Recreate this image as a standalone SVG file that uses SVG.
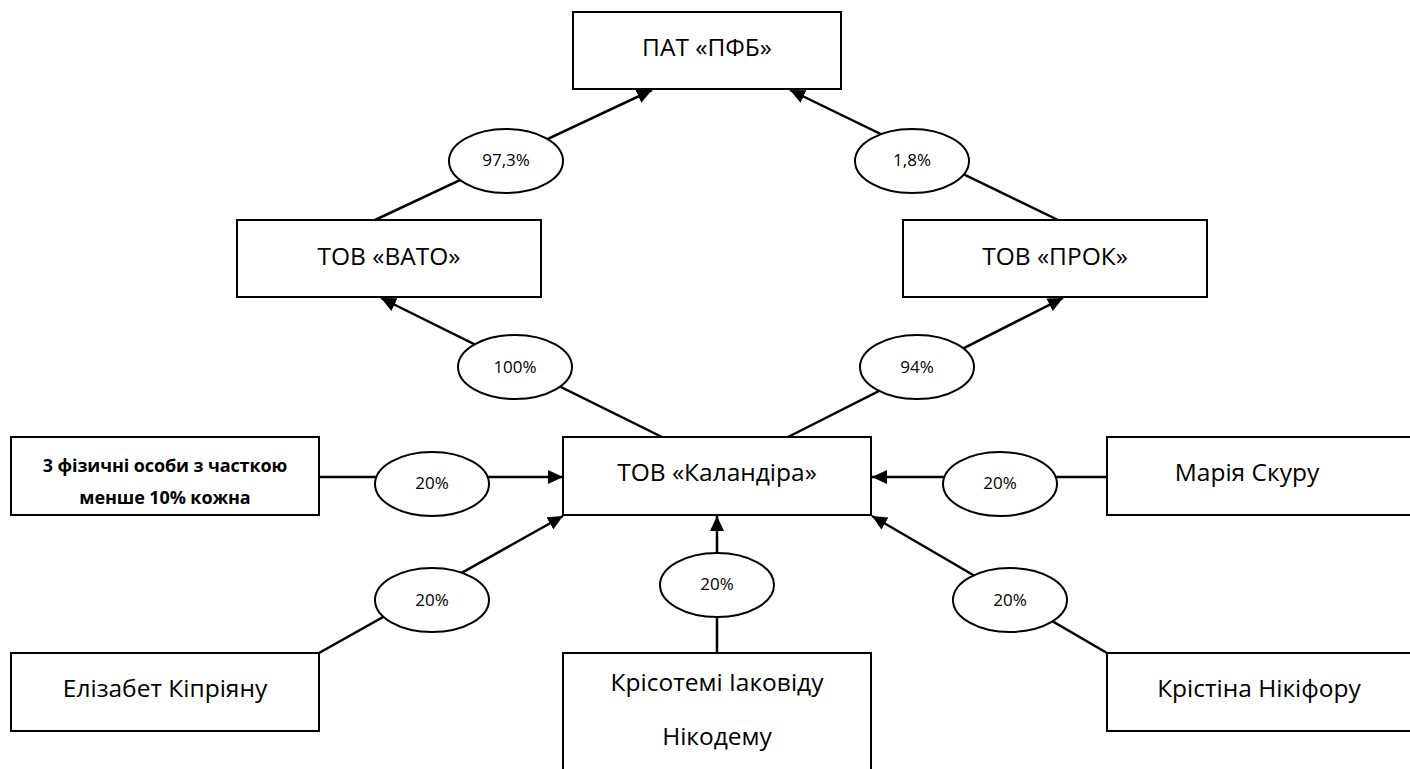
<svg xmlns="http://www.w3.org/2000/svg" width="1410" height="769" viewBox="0 0 1410 769">
<style>
.box{fill:#fff;stroke:#000;stroke-width:2}
.lbl{font-family:"Open Sans","Noto Sans","DejaVu Sans",sans-serif;font-size:24.5px;fill:#000;text-anchor:middle}
.bold{font-family:"Open Sans","Noto Sans","DejaVu Sans",sans-serif;font-size:18px;font-weight:bold;fill:#000;text-anchor:middle;letter-spacing:-0.1px}
.pct{font-family:"Open Sans","Noto Sans","DejaVu Sans",sans-serif;font-size:17px;fill:#000;text-anchor:middle}
.ell{fill:#fff;stroke:#000;stroke-width:2}
.ln{stroke:#000;stroke-width:2.5;fill:none}
</style>
<defs>
<marker id="arr" markerUnits="userSpaceOnUse" markerWidth="16" markerHeight="14" refX="15" refY="7" orient="auto">
<path d="M0,0 L15,7 L0,14 z" fill="#000"/>
</marker>
</defs>
<g id="connectors">
<line class="ln" x1="375" y1="220" x2="652" y2="90" marker-end="url(#arr)"/>
<line class="ln" x1="1058" y1="220" x2="790" y2="90" marker-end="url(#arr)"/>
<line class="ln" x1="662" y1="437" x2="381" y2="298" marker-end="url(#arr)"/>
<line class="ln" x1="788" y1="437" x2="1063" y2="298" marker-end="url(#arr)"/>
<line class="ln" x1="319" y1="477" x2="563" y2="477" marker-end="url(#arr)"/>
<line class="ln" x1="1107" y1="477" x2="872" y2="477" marker-end="url(#arr)"/>
<line class="ln" x1="319" y1="653" x2="563" y2="516" marker-end="url(#arr)"/>
<line class="ln" x1="717" y1="653" x2="717" y2="516" marker-end="url(#arr)"/>
<line class="ln" x1="1107" y1="653" x2="872" y2="516" marker-end="url(#arr)"/>
<g id="labels">
<ellipse class="ell" cx="506" cy="161" rx="57" ry="32"/><text class="pct" x="506" y="166">97,3%</text>
<ellipse class="ell" cx="912" cy="161" rx="57" ry="32"/><text class="pct" x="912" y="166">1,8%</text>
<ellipse class="ell" cx="515" cy="367" rx="57" ry="32"/><text class="pct" x="515" y="373">100%</text>
<ellipse class="ell" cx="917" cy="367" rx="57" ry="32"/><text class="pct" x="917" y="373">94%</text>
<ellipse class="ell" cx="432" cy="484" rx="57" ry="32"/><text class="pct" x="432" y="489">20%</text>
<ellipse class="ell" cx="1000" cy="484" rx="57" ry="32"/><text class="pct" x="1000" y="489">20%</text>
<ellipse class="ell" cx="432" cy="600" rx="57" ry="32"/><text class="pct" x="432" y="606">20%</text>
<ellipse class="ell" cx="717" cy="585" rx="57" ry="32"/><text class="pct" x="717" y="590">20%</text>
<ellipse class="ell" cx="1010" cy="600" rx="57" ry="32"/><text class="pct" x="1010" y="606">20%</text>
</g>
</g>
<g id="pfb"><rect class="box" x="573" y="12" width="268" height="77"/><text class="lbl" x="707" y="56">ПАТ «ПФБ»</text></g>
<g id="vato"><rect class="box" x="237" y="220" width="304" height="77"/><text class="lbl" x="389" y="265">ТОВ «ВАТО»</text></g>
<g id="prok"><rect class="box" x="903" y="220" width="304" height="77"/><text class="lbl" x="1055" y="265">ТОВ «ПРОК»</text></g>
<g id="kalandira"><rect class="box" x="563" y="437" width="308" height="78"/><text class="lbl" x="717" y="481">ТОВ «Каландіра»</text></g>
<g id="three"><rect class="box" x="11" y="437" width="308" height="78"/><text class="bold" x="165" y="472">3 фізичні особи з часткою</text><text class="bold" x="165" y="504">менше 10% кожна</text></g>
<g id="skuru"><rect class="box" x="1107" y="437" width="310" height="78"/><text class="lbl" x="1247" y="481">Марія Скуру</text></g>
<g id="kypriianu"><rect class="box" x="11" y="653" width="308" height="78"/><text class="lbl" x="165" y="697">Елізабет Кіпріяну</text></g>
<g id="iakovidu"><rect class="box" x="563" y="653" width="308" height="130"/><text class="lbl" x="717" y="691">Крісотемі Іаковіду</text><text class="lbl" x="717" y="745">Нікодему</text></g>
<g id="nikiforu"><rect class="box" x="1107" y="653" width="310" height="78"/><text class="lbl" x="1259" y="697">Крістіна Нікіфору</text></g>
</svg>
